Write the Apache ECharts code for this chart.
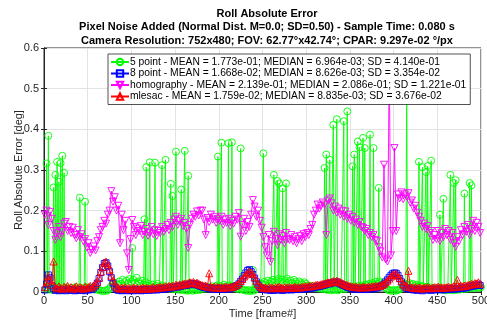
<!DOCTYPE html>
<html><head><meta charset="utf-8">
<script src="https://cdn.jsdelivr.net/npm/echarts@6/dist/echarts.min.js"></script>
<style>html,body{margin:0;padding:0;background:#fff}#c{width:487px;height:322px}</style>
</head><body><div id="c"></div>
<script>
const titleLines = [
  "Roll Absolute Error",
  "Pixel Noise Added (Normal Dist. M=0.0; SD=0.50) - Sample Time: 0.080 s",
  "Camera Resolution: 752x480; FOV: 62.77°x42.74°; CPAR: 9.297e-02 °/px"
];
const legendNames = [
  "5 point - MEAN = 1.773e-01; MEDIAN = 6.964e-03; SD = 4.140e-01",
  "8 point - MEAN = 1.668e-02; MEDIAN = 8.626e-03; SD = 3.354e-02",
  "homography - MEAN = 2.139e-01; MEDIAN = 2.086e-01; SD = 1.221e-01",
  "mlesac - MEAN = 1.759e-02; MEDIAN = 8.835e-03; SD = 3.676e-02"
];
const xAxisName = "Time [frame#]";
const yAxisName = "Roll Absolute Error [deg]";
const xTickLabels = [0, 50, 100, 150, 200, 250, 300, 350, 400, 450, 500];
const yTickLabels = [0, 0.1, 0.2, 0.3, 0.4, 0.5, 0.6];

// values at frames 1,3,5,...,499
const homography = [
  0.19, 0.20, 0.165, 0.197, 0.18, 0.15, 0.128, 0.145, 0.16, 0.135,
  0.15, 0.168, 0.172, 0.15, 0.16, 0.145, 0.158, 0.14, 0.132, 0.152,
  0.135, 0.142, 0.125, 0.13, 0.11, 0.12, 0.096, 0.104, 0.112, 0.102,
  0.125, 0.135, 0.152, 0.16, 0.175, 0.168, 0.19, 0.2, 0.248, 0.222,
  0.233, 0.2, 0.212, 0.12, 0.19, 0.152, 0.175, 0.095, 0.054, 0.13,
  0.177, 0.16, 0.14, 0.156, 0.15, 0.162, 0.14, 0.148, 0.155, 0.138,
  0.145, 0.16, 0.142, 0.152, 0.138, 0.15, 0.145, 0.16, 0.148, 0.155,
  0.165, 0.152, 0.17, 0.16, 0.178, 0.185, 0.165, 0.175, 0.18, 0.162,
  0.17, 0.155, 0.108, 0.165, 0.18, 0.19, 0.185, 0.198, 0.188, 0.2,
  0.2, 0.178, 0.14, 0.182, 0.172, 0.19, 0.178, 0.185, 0.17, 0.18,
  0.175, 0.185, 0.165, 0.178, 0.17, 0.18, 0.162, 0.175, 0.168, 0.185,
  0.178, 0.194, 0.136, 0.165, 0.18, 0.15, 0.172, 0.16, 0.19, 0.226,
  0.21, 0.185, 0.2, 0.175, 0.158, 0.135, 0.11, 0.09, 0.14, 0.074,
  0.125, 0.148, 0.13, 0.115, 0.142, 0.128, 0.138, 0.12, 0.145, 0.13,
  0.128, 0.14, 0.125, 0.135, 0.12, 0.13, 0.138, 0.125, 0.142, 0.135,
  0.145, 0.14, 0.155, 0.165, 0.19, 0.2, 0.215, 0.205, 0.212, 0.22,
  0.215, 0.14, 0.225, 0.23, 0.218, 0.2, 0.21, 0.195, 0.205, 0.19,
  0.2, 0.185, 0.198, 0.18, 0.19, 0.175, 0.185, 0.17, 0.178, 0.165,
  0.172, 0.16, 0.158, 0.15, 0.155, 0.14, 0.145, 0.135, 0.14, 0.128,
  0.125, 0.11, 0.1, 0.085, 0.313, 0.08, 0.075, 0.56, 0.09, 0.15,
  0.354, 0.15, 0.24, 0.23, 0.245, 0.228, 0.24, 0.235, 0.243, 0.22,
  0.225, 0.205, 0.212, 0.195, 0.185, 0.175, 0.16, 0.168, 0.155, 0.162,
  0.145, 0.15, 0.128, 0.14, 0.13, 0.15, 0.125, 0.145, 0.135, 0.155,
  0.14, 0.15, 0.128, 0.145, 0.12, 0.111, 0.135, 0.125, 0.152, 0.14,
  0.16, 0.148, 0.165, 0.14, 0.155, 0.175, 0.15, 0.17, 0.16, 0.145
];
const mlesac = [
  0.012, 0.025, 0.04, 0.03, 0.018, 0.075, 0.012, 0.009, 0.014, 0.01,
  0.008, 0.013, 0.01, 0.015, 0.009, 0.012, 0.008, 0.011, 0.014, 0.009,
  0.012, 0.01, 0.008, 0.013, 0.01, 0.012, 0.015, 0.011, 0.016, 0.02,
  0.025, 0.035, 0.05, 0.062, 0.072, 0.075, 0.068, 0.055, 0.04, 0.028,
  0.018, 0.013, 0.01, 0.008, 0.011, 0.009, 0.012, 0.008, 0.01, 0.007,
  0.009, 0.011, 0.008, 0.01, 0.007, 0.009, 0.011, 0.008, 0.01, 0.009,
  0.008, 0.01, 0.012, 0.009, 0.011, 0.01, 0.013, 0.011, 0.012, 0.014,
  0.012, 0.015, 0.013, 0.016, 0.014, 0.018, 0.016, 0.019, 0.017, 0.02,
  0.021, 0.019, 0.022, 0.024, 0.022, 0.025, 0.021, 0.023, 0.02, 0.018,
  0.017, 0.015, 0.016, 0.013, 0.046, 0.012, 0.011, 0.013, 0.01, 0.012,
  0.011, 0.012, 0.01, 0.013, 0.012, 0.011, 0.013, 0.012, 0.014, 0.016,
  0.018, 0.022, 0.027, 0.032, 0.038, 0.043, 0.047, 0.05, 0.048, 0.044,
  0.036, 0.028, 0.02, 0.015, 0.012, 0.01, 0.011, 0.009, 0.012, 0.01,
  0.011, 0.009, 0.012, 0.01, 0.013, 0.011, 0.009, 0.012, 0.01, 0.011,
  0.012, 0.01, 0.011, 0.013, 0.01, 0.012, 0.011, 0.013, 0.012, 0.014,
  0.013, 0.015, 0.014, 0.016, 0.015, 0.017, 0.018, 0.017, 0.019, 0.02,
  0.021, 0.022, 0.024, 0.023, 0.025, 0.027, 0.026, 0.028, 0.026, 0.024,
  0.022, 0.02, 0.018, 0.017, 0.015, 0.014, 0.013, 0.012, 0.013, 0.011,
  0.012, 0.011, 0.013, 0.012, 0.011, 0.013, 0.012, 0.014, 0.013, 0.015,
  0.014, 0.016, 0.015, 0.018, 0.02, 0.024, 0.028, 0.033, 0.038, 0.042,
  0.045, 0.044, 0.04, 0.034, 0.027, 0.02, 0.016, 0.013, 0.052, 0.012,
  0.011, 0.01, 0.012, 0.009, 0.011, 0.01, 0.008, 0.011, 0.01, 0.012,
  0.01, 0.009, 0.011, 0.012, 0.01, 0.013, 0.011, 0.012, 0.01, 0.011,
  0.012, 0.013, 0.011, 0.012, 0.014, 0.012, 0.03, 0.013, 0.015, 0.014,
  0.016, 0.015, 0.017, 0.018, 0.02, 0.019, 0.022, 0.021, 0.024, 0.02
];
const eightPoint = [
  0.005, 0.02, 0.042, 0.035, 0.015, 0.008, 0.004, 0.006, 0.003, 0.005,
  0.004, 0.006, 0.003, 0.007, 0.005, 0.004, 0.006, 0.003, 0.005, 0.004,
  0.006, 0.004, 0.005, 0.003, 0.006, 0.005, 0.007, 0.006, 0.01, 0.015,
  0.022, 0.033, 0.048, 0.06, 0.07, 0.072, 0.064, 0.05, 0.035, 0.022,
  0.012, 0.007, 0.004, 0.005, 0.003, 0.006, 0.004, 0.005, 0.003, 0.004,
  0.005, 0.003, 0.006, 0.004, 0.005, 0.003, 0.006, 0.004, 0.005, 0.006,
  0.004, 0.006, 0.005, 0.007, 0.005, 0.006, 0.008, 0.006, 0.007, 0.009,
  0.008, 0.01, 0.009, 0.012, 0.011, 0.013, 0.012, 0.015, 0.014, 0.016,
  0.017, 0.016, 0.019, 0.02, 0.018, 0.021, 0.018, 0.019, 0.016, 0.014,
  0.013, 0.011, 0.012, 0.009, 0.01, 0.008, 0.007, 0.009, 0.006, 0.008,
  0.007, 0.008, 0.006, 0.009, 0.008, 0.007, 0.009, 0.01, 0.012, 0.014,
  0.016, 0.02, 0.026, 0.032, 0.04, 0.047, 0.053, 0.055, 0.05, 0.043,
  0.034, 0.025, 0.017, 0.011, 0.008, 0.006, 0.007, 0.005, 0.006, 0.004,
  0.005, 0.004, 0.006, 0.005, 0.007, 0.005, 0.004, 0.006, 0.005, 0.006,
  0.007, 0.005, 0.006, 0.008, 0.006, 0.007, 0.006, 0.008, 0.007, 0.009,
  0.008, 0.01, 0.009, 0.011, 0.01, 0.012, 0.014, 0.013, 0.015, 0.016,
  0.017, 0.019, 0.021, 0.02, 0.022, 0.024, 0.023, 0.025, 0.022, 0.02,
  0.018, 0.016, 0.014, 0.012, 0.011, 0.009, 0.008, 0.007, 0.008, 0.006,
  0.007, 0.006, 0.008, 0.007, 0.006, 0.008, 0.007, 0.009, 0.008, 0.01,
  0.01, 0.012, 0.013, 0.016, 0.02, 0.025, 0.03, 0.036, 0.041, 0.045,
  0.047, 0.046, 0.041, 0.033, 0.025, 0.017, 0.012, 0.009, 0.008, 0.007,
  0.006, 0.005, 0.007, 0.004, 0.006, 0.005, 0.003, 0.006, 0.005, 0.007,
  0.005, 0.004, 0.006, 0.007, 0.005, 0.008, 0.006, 0.007, 0.005, 0.006,
  0.007, 0.008, 0.006, 0.007, 0.009, 0.007, 0.008, 0.009, 0.01, 0.009,
  0.011, 0.01, 0.012, 0.013, 0.015, 0.014, 0.017, 0.016, 0.019, 0.016
];
// 5 point: low values at frames 2,4,...,500
const fivePointBase = [
  0.008, 0.012, 0.006, 0.01, 0.005, 0.009, 0.012, 0.007, 0.01, 0.006,
  0.009, 0.005, 0.011, 0.008, 0.006, 0.01, 0.007, 0.012, 0.008, 0.006,
  0.01, 0.007, 0.009, 0.012, 0.008, 0.011, 0.007, 0.009, 0.006, 0.008,
  0.005, 0.004, 0.003, 0.002, 0.004, 0.003, 0.006, 0.012, 0.018, 0.015,
  0.022, 0.018, 0.026, 0.02, 0.03, 0.024, 0.028, 0.021, 0.032, 0.025,
  0.03, 0.022, 0.035, 0.026, 0.02, 0.028, 0.018, 0.024, 0.015, 0.02,
  0.012, 0.018, 0.01, 0.015, 0.02, 0.012, 0.016, 0.01, 0.014, 0.009,
  0.012, 0.008, 0.011, 0.007, 0.01, 0.006, 0.008, 0.005, 0.007, 0.004,
  0.005, 0.003, 0.004, 0.006, 0.003, 0.005, 0.004, 0.007, 0.005, 0.008,
  0.01, 0.008, 0.012, 0.009, 0.011, 0.014, 0.01, 0.013, 0.016, 0.012,
  0.015, 0.011, 0.018, 0.014, 0.012, 0.016, 0.01, 0.014, 0.011, 0.008,
  0.01, 0.006, 0.008, 0.005, 0.004, 0.003, 0.005, 0.002, 0.004, 0.003,
  0.006, 0.01, 0.015, 0.02, 0.018, 0.025, 0.022, 0.028, 0.02, 0.026,
  0.03, 0.024, 0.028, 0.032, 0.025, 0.03, 0.022, 0.027, 0.033, 0.024,
  0.028, 0.022, 0.03, 0.025, 0.02, 0.026, 0.022, 0.018, 0.024, 0.02,
  0.016, 0.012, 0.015, 0.01, 0.013, 0.009, 0.011, 0.008, 0.01, 0.007,
  0.008, 0.005, 0.007, 0.004, 0.006, 0.005, 0.007, 0.004, 0.006, 0.008,
  0.01, 0.007, 0.012, 0.009, 0.011, 0.014, 0.01, 0.013, 0.011, 0.015,
  0.012, 0.016, 0.013, 0.018, 0.015, 0.02, 0.017, 0.022, 0.018, 0.025,
  0.02, 0.026, 0.022, 0.018, 0.012, 0.008, 0.005, 0.004, 0.003, 0.005,
  0.003, 0.004, 0.006, 0.008, 0.012, 0.015, 0.02, 0.018, 0.022, 0.017,
  0.02, 0.015, 0.018, 0.013, 0.016, 0.012, 0.014, 0.01, 0.013, 0.009,
  0.011, 0.008, 0.01, 0.007, 0.009, 0.006, 0.008, 0.005, 0.007, 0.004,
  0.006, 0.005, 0.007, 0.004, 0.006, 0.005, 0.008, 0.006, 0.009, 0.007,
  0.01, 0.008, 0.011, 0.009, 0.012, 0.01, 0.013, 0.011, 0.01, 0.012
];
// 5 point: spikes [frame, value]
const fivePointPeaks = [
  [3, 0.316], [5, 0.384], [11, 0.257], [13, 0.288], [15, 0.32], [17, 0.271],
  [19, 0.317], [21, 0.335], [23, 0.293], [41, 0.232], [47, 0.222], [101, 0.108],
  [115, 0.179], [117, 0.307], [121, 0.319], [127, 0.318], [135, 0.312], [139, 0.325],
  [145, 0.266], [147, 0.236], [151, 0.345], [157, 0.252], [161, 0.347], [165, 0.286],
  [199, 0.333], [203, 0.367], [211, 0.366], [215, 0.368], [225, 0.353], [239, 0.054],
  [251, 0.341], [263, 0.288], [267, 0.273], [269, 0.267], [273, 0.255], [277, 0.267],
  [321, 0.305], [323, 0.338], [327, 0.325], [331, 0.411], [335, 0.425], [343, 0.42],
  [347, 0.444], [353, 0.309], [355, 0.338], [359, 0.37], [361, 0.356], [365, 0.379],
  [367, 0.354], [373, 0.387], [377, 0.354], [383, 0.256], [415, 0.52], [429, 0.32],
  [433, 0.307], [437, 0.295], [439, 0.31], [443, 0.323], [453, 0.19], [457, 0.229],
  [465, 0.288], [469, 0.268], [471, 0.275], [481, 0.242], [487, 0.268], [489, 0.262]
];

const oddPairs = arr => arr.map((v, i) => [1 + 2 * i, v]);
const fivePoint = fivePointBase.map((v, i) => [2 + 2 * i, v])
  .concat(fivePointPeaks).sort((a, b) => a[0] - b[0]);

const FONT = "'Liberation Sans', Arial, Helvetica, sans-serif";
const AX = '#262626';
const colors = ['#00ff00', '#0000ff', '#ff00ff', '#ff0000'];
const symbols = ['circle', 'rect', 'path://M0,0 L10,0 L5,9 Z', 'path://M5,0 L10,9 L0,9 Z'];
const sizes = [7, 6, 7, 7];
const datas = [fivePoint, oddPairs(eightPoint), oddPairs(homography), oddPairs(mlesac)];

const series = legendNames.map((name, k) => ({
  name, type: 'line', data: datas[k], xAxisIndex: 0, yAxisIndex: 0,
  symbol: symbols[k], symbolSize: sizes[k], showSymbol: true, showAllSymbol: true,
  animation: false, z: 2 + k, clip: true,
  lineStyle: { color: colors[k], width: 0.9 },
  itemStyle: { color: 'rgba(255,255,255,0)', borderColor: colors[k], borderWidth: 0.9 },
  emphasis: { disabled: true }
}));

const chart = echarts.init(document.getElementById('c'), null, { renderer: 'canvas' });
chart.setOption({
  animation: false,
  backgroundColor: '#fff',
  textStyle: { fontFamily: FONT },
  title: {
    text: titleLines.join('\n'), left: 262, top: 2, textAlign: 'center',
    textStyle: { fontSize: 11, fontWeight: 'bold', color: '#000', lineHeight: 13.5, fontFamily: FONT }
  },
  grid: { left: 44, right: 6, top: 48, bottom: 30, containLabel: false, outerBoundsMode: 'none',
    show: true, borderColor: AX, borderWidth: 1, backgroundColor: 'rgba(0,0,0,0)' },
  legend: {
    orient: 'vertical', left: 108, top: 54, data: legendNames,
    backgroundColor: '#fff', borderColor: AX, borderWidth: 0.8, padding: [3, 4, 3, 2],
    itemGap: 1.5, itemWidth: 18, itemHeight: 8,
    textStyle: { fontSize: 10.3, color: '#000', fontFamily: FONT, padding: [0, 0, 0, -4] },
    selectedMode: false, z: 20
  },
  xAxis: [{
    type: 'value', min: xTickLabels[0], max: xTickLabels[xTickLabels.length - 1], interval: 50,
    name: xAxisName, nameLocation: 'middle', nameGap: 16, nameMoveOverlap: false,
    nameTextStyle: { fontSize: 11, color: AX },
    axisLine: { show: true, lineStyle: { color: AX } },
    axisTick: { show: true, inside: true, length: 3, lineStyle: { color: AX } },
    axisLabel: { fontSize: 11, color: AX, margin: 3 },
    splitLine: { show: true, lineStyle: { color: '#e3e3e3', width: 1 } }
  }, {
    type: 'value', position: 'top', min: 0, max: 500, interval: 50,
    axisLine: { show: true, lineStyle: { color: AX } },
    axisTick: { show: true, inside: true, length: 3, lineStyle: { color: AX } },
    axisLabel: { show: false }, splitLine: { show: false }
  }],
  yAxis: [{
    type: 'value', min: yTickLabels[0], max: yTickLabels[yTickLabels.length - 1], interval: 0.1,
    name: yAxisName, nameLocation: 'middle', nameGap: 20, nameMoveOverlap: false,
    nameTextStyle: { fontSize: 11, color: AX },
    axisLine: { show: true, lineStyle: { color: AX } },
    axisTick: { show: true, inside: true, length: 3, lineStyle: { color: AX } },
    axisLabel: { fontSize: 11, color: AX, margin: 5 },
    splitLine: { show: true, lineStyle: { color: '#e3e3e3', width: 1 } }
  }, {
    type: 'value', position: 'right', min: 0, max: 0.6, interval: 0.1,
    axisLine: { show: true, lineStyle: { color: AX } },
    axisTick: { show: true, inside: true, length: 3, lineStyle: { color: AX } },
    axisLabel: { show: false }, splitLine: { show: false }
  }],
  series
});
</script>
</body></html>
